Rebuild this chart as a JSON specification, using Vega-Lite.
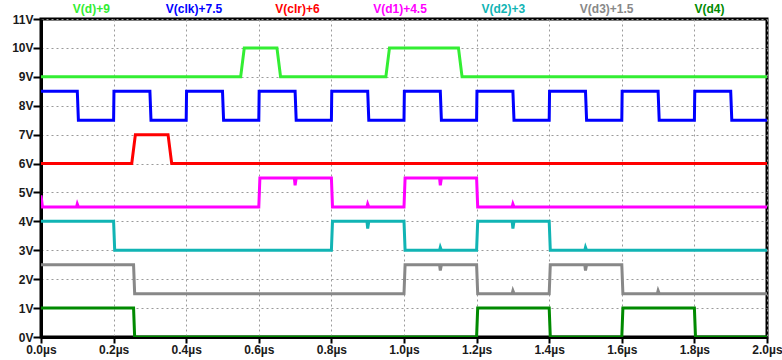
{
  "$schema": "https://vega.github.io/schema/vega-lite/v6.json",
  "width": 726,
  "height": 318,
  "autosize": {"type": "none"},
  "padding": {"left": 41, "top": 19, "right": 15, "bottom": 23},
  "background": "#ffffff",
  "config": {
    "view": {"stroke": "#000000", "strokeWidth": 3},
    "font": "Liberation Sans",
    "axis": {
      "domainColor": "#000000",
      "domainWidth": 3,
      "tickColor": "#000000",
      "tickWidth": 2,
      "labelFont": "Liberation Sans",
      "labelFontSize": 12,
      "labelFontWeight": "bold",
      "labelColor": "#1a1a1a",
      "gridColor": "#9a9a9a",
      "gridDash": [2, 3],
      "gridWidth": 1,
      "title": null
    }
  },
  "datasets": {
    "traces": [
      {"signal": "V(d)+9", "t": 0, "v": 9}, {"signal": "V(d)+9", "t": 0.55, "v": 9}, {"signal": "V(d)+9", "t": 0.56, "v": 10}, {"signal": "V(d)+9", "t": 0.65, "v": 10}, {"signal": "V(d)+9", "t": 0.66, "v": 9}, {"signal": "V(d)+9", "t": 0.95, "v": 9}, {"signal": "V(d)+9", "t": 0.96, "v": 10}, {"signal": "V(d)+9", "t": 1.15, "v": 10}, {"signal": "V(d)+9", "t": 1.16, "v": 9}, {"signal": "V(d)+9", "t": 2.0, "v": 9},

      {"signal": "V(clk)+7.5", "t": 0, "v": 8.5}, {"signal": "V(clk)+7.5", "t": 0.1, "v": 8.5}, {"signal": "V(clk)+7.5", "t": 0.103, "v": 7.5}, {"signal": "V(clk)+7.5", "t": 0.2, "v": 7.5}, {"signal": "V(clk)+7.5", "t": 0.201, "v": 8.5},
      {"signal": "V(clk)+7.5", "t": 0.3, "v": 8.5}, {"signal": "V(clk)+7.5", "t": 0.303, "v": 7.5}, {"signal": "V(clk)+7.5", "t": 0.4, "v": 7.5}, {"signal": "V(clk)+7.5", "t": 0.401, "v": 8.5},
      {"signal": "V(clk)+7.5", "t": 0.5, "v": 8.5}, {"signal": "V(clk)+7.5", "t": 0.503, "v": 7.5}, {"signal": "V(clk)+7.5", "t": 0.6, "v": 7.5}, {"signal": "V(clk)+7.5", "t": 0.601, "v": 8.5},
      {"signal": "V(clk)+7.5", "t": 0.7, "v": 8.5}, {"signal": "V(clk)+7.5", "t": 0.703, "v": 7.5}, {"signal": "V(clk)+7.5", "t": 0.8, "v": 7.5}, {"signal": "V(clk)+7.5", "t": 0.801, "v": 8.5},
      {"signal": "V(clk)+7.5", "t": 0.9, "v": 8.5}, {"signal": "V(clk)+7.5", "t": 0.903, "v": 7.5}, {"signal": "V(clk)+7.5", "t": 1.0, "v": 7.5}, {"signal": "V(clk)+7.5", "t": 1.001, "v": 8.5},
      {"signal": "V(clk)+7.5", "t": 1.1, "v": 8.5}, {"signal": "V(clk)+7.5", "t": 1.103, "v": 7.5}, {"signal": "V(clk)+7.5", "t": 1.2, "v": 7.5}, {"signal": "V(clk)+7.5", "t": 1.201, "v": 8.5},
      {"signal": "V(clk)+7.5", "t": 1.3, "v": 8.5}, {"signal": "V(clk)+7.5", "t": 1.303, "v": 7.5}, {"signal": "V(clk)+7.5", "t": 1.4, "v": 7.5}, {"signal": "V(clk)+7.5", "t": 1.401, "v": 8.5},
      {"signal": "V(clk)+7.5", "t": 1.5, "v": 8.5}, {"signal": "V(clk)+7.5", "t": 1.503, "v": 7.5}, {"signal": "V(clk)+7.5", "t": 1.6, "v": 7.5}, {"signal": "V(clk)+7.5", "t": 1.601, "v": 8.5},
      {"signal": "V(clk)+7.5", "t": 1.7, "v": 8.5}, {"signal": "V(clk)+7.5", "t": 1.703, "v": 7.5}, {"signal": "V(clk)+7.5", "t": 1.8, "v": 7.5}, {"signal": "V(clk)+7.5", "t": 1.801, "v": 8.5},
      {"signal": "V(clk)+7.5", "t": 1.9, "v": 8.5}, {"signal": "V(clk)+7.5", "t": 1.903, "v": 7.5}, {"signal": "V(clk)+7.5", "t": 2.0, "v": 7.5},

      {"signal": "V(clr)+6", "t": 0, "v": 6}, {"signal": "V(clr)+6", "t": 0.25, "v": 6}, {"signal": "V(clr)+6", "t": 0.26, "v": 7}, {"signal": "V(clr)+6", "t": 0.35, "v": 7}, {"signal": "V(clr)+6", "t": 0.36, "v": 6}, {"signal": "V(clr)+6", "t": 2.0, "v": 6},

      {"signal": "V(d1)+4.5", "t": 0, "v": 4.9}, {"signal": "V(d1)+4.5", "t": 0.004, "v": 4.5}, {"signal": "V(d1)+4.5", "t": 0.098, "v": 4.5}, {"signal": "V(d1)+4.5", "t": 0.1, "v": 4.6}, {"signal": "V(d1)+4.5", "t": 0.103, "v": 4.5},
      {"signal": "V(d1)+4.5", "t": 0.6, "v": 4.5}, {"signal": "V(d1)+4.5", "t": 0.603, "v": 5.5}, {"signal": "V(d1)+4.5", "t": 0.698, "v": 5.5}, {"signal": "V(d1)+4.5", "t": 0.7, "v": 5.25}, {"signal": "V(d1)+4.5", "t": 0.703, "v": 5.5},
      {"signal": "V(d1)+4.5", "t": 0.8, "v": 5.5}, {"signal": "V(d1)+4.5", "t": 0.803, "v": 4.5}, {"signal": "V(d1)+4.5", "t": 0.898, "v": 4.5}, {"signal": "V(d1)+4.5", "t": 0.9, "v": 4.6}, {"signal": "V(d1)+4.5", "t": 0.903, "v": 4.5},
      {"signal": "V(d1)+4.5", "t": 1.0, "v": 4.5}, {"signal": "V(d1)+4.5", "t": 1.003, "v": 5.5}, {"signal": "V(d1)+4.5", "t": 1.098, "v": 5.5}, {"signal": "V(d1)+4.5", "t": 1.1, "v": 5.25}, {"signal": "V(d1)+4.5", "t": 1.103, "v": 5.5},
      {"signal": "V(d1)+4.5", "t": 1.2, "v": 5.5}, {"signal": "V(d1)+4.5", "t": 1.203, "v": 4.5}, {"signal": "V(d1)+4.5", "t": 1.298, "v": 4.5}, {"signal": "V(d1)+4.5", "t": 1.3, "v": 4.6}, {"signal": "V(d1)+4.5", "t": 1.303, "v": 4.5},
      {"signal": "V(d1)+4.5", "t": 2.0, "v": 4.5},

      {"signal": "V(d2)+3", "t": 0, "v": 4}, {"signal": "V(d2)+3", "t": 0.2, "v": 4}, {"signal": "V(d2)+3", "t": 0.203, "v": 3}, {"signal": "V(d2)+3", "t": 0.8, "v": 3}, {"signal": "V(d2)+3", "t": 0.803, "v": 4},
      {"signal": "V(d2)+3", "t": 0.898, "v": 4}, {"signal": "V(d2)+3", "t": 0.9, "v": 3.75}, {"signal": "V(d2)+3", "t": 0.903, "v": 4}, {"signal": "V(d2)+3", "t": 1.0, "v": 4}, {"signal": "V(d2)+3", "t": 1.003, "v": 3},
      {"signal": "V(d2)+3", "t": 1.098, "v": 3}, {"signal": "V(d2)+3", "t": 1.1, "v": 3.1}, {"signal": "V(d2)+3", "t": 1.103, "v": 3}, {"signal": "V(d2)+3", "t": 1.2, "v": 3}, {"signal": "V(d2)+3", "t": 1.203, "v": 4},
      {"signal": "V(d2)+3", "t": 1.298, "v": 4}, {"signal": "V(d2)+3", "t": 1.3, "v": 3.75}, {"signal": "V(d2)+3", "t": 1.303, "v": 4}, {"signal": "V(d2)+3", "t": 1.4, "v": 4}, {"signal": "V(d2)+3", "t": 1.403, "v": 3},
      {"signal": "V(d2)+3", "t": 1.498, "v": 3}, {"signal": "V(d2)+3", "t": 1.5, "v": 3.1}, {"signal": "V(d2)+3", "t": 1.503, "v": 3}, {"signal": "V(d2)+3", "t": 2.0, "v": 3},

      {"signal": "V(d3)+1.5", "t": 0, "v": 2.5}, {"signal": "V(d3)+1.5", "t": 0.255, "v": 2.5}, {"signal": "V(d3)+1.5", "t": 0.258, "v": 1.5}, {"signal": "V(d3)+1.5", "t": 1.0, "v": 1.5}, {"signal": "V(d3)+1.5", "t": 1.003, "v": 2.5},
      {"signal": "V(d3)+1.5", "t": 1.098, "v": 2.5}, {"signal": "V(d3)+1.5", "t": 1.1, "v": 2.3}, {"signal": "V(d3)+1.5", "t": 1.103, "v": 2.5}, {"signal": "V(d3)+1.5", "t": 1.2, "v": 2.5}, {"signal": "V(d3)+1.5", "t": 1.203, "v": 1.5},
      {"signal": "V(d3)+1.5", "t": 1.298, "v": 1.5}, {"signal": "V(d3)+1.5", "t": 1.3, "v": 1.6}, {"signal": "V(d3)+1.5", "t": 1.303, "v": 1.5}, {"signal": "V(d3)+1.5", "t": 1.4, "v": 1.5}, {"signal": "V(d3)+1.5", "t": 1.403, "v": 2.5},
      {"signal": "V(d3)+1.5", "t": 1.498, "v": 2.5}, {"signal": "V(d3)+1.5", "t": 1.5, "v": 2.3}, {"signal": "V(d3)+1.5", "t": 1.503, "v": 2.5}, {"signal": "V(d3)+1.5", "t": 1.6, "v": 2.5}, {"signal": "V(d3)+1.5", "t": 1.603, "v": 1.5},
      {"signal": "V(d3)+1.5", "t": 1.698, "v": 1.5}, {"signal": "V(d3)+1.5", "t": 1.7, "v": 1.6}, {"signal": "V(d3)+1.5", "t": 1.703, "v": 1.5}, {"signal": "V(d3)+1.5", "t": 2.0, "v": 1.5},

      {"signal": "V(d4)", "t": 0, "v": 1}, {"signal": "V(d4)", "t": 0.255, "v": 1}, {"signal": "V(d4)", "t": 0.258, "v": 0}, {"signal": "V(d4)", "t": 1.2, "v": 0}, {"signal": "V(d4)", "t": 1.203, "v": 1},
      {"signal": "V(d4)", "t": 1.4, "v": 1}, {"signal": "V(d4)", "t": 1.403, "v": 0}, {"signal": "V(d4)", "t": 1.6, "v": 0}, {"signal": "V(d4)", "t": 1.603, "v": 1}, {"signal": "V(d4)", "t": 1.8, "v": 1},
      {"signal": "V(d4)", "t": 1.803, "v": 0}, {"signal": "V(d4)", "t": 2.0, "v": 0}
    ],
    "names": [
      {"signal": "V(d)+9", "t": 0.1386},
      {"signal": "V(clk)+7.5", "t": 0.4215},
      {"signal": "V(clr)+6", "t": 0.7066},
      {"signal": "V(d1)+4.5", "t": 0.989},
      {"signal": "V(d2)+3", "t": 1.2736},
      {"signal": "V(d3)+1.5", "t": 1.5584},
      {"signal": "V(d4)", "t": 1.8416}
    ]
  },
  "encoding": {
    "x": {
      "field": "t",
      "type": "quantitative",
      "scale": {"domain": [0, 2], "nice": false, "zero": false},
      "axis": {
        "values": [0, 0.2, 0.4, 0.6, 0.8, 1.0, 1.2, 1.4, 1.6, 1.8, 2.0],
        "labelExpr": "format(datum.value, '.1f') + 'µs'",
        "tickSize": 6,
        "labelPadding": 1,
        "labelFlush": false,
        "labelOverlap": false
      }
    },
    "color": {
      "field": "signal",
      "type": "nominal",
      "scale": {
        "domain": ["V(d)+9", "V(clk)+7.5", "V(clr)+6", "V(d1)+4.5", "V(d2)+3", "V(d3)+1.5", "V(d4)"],
        "range": ["#33ee33", "#0000ff", "#ff0000", "#ff00ff", "#11b4b4", "#888888", "#008a00"]
      },
      "legend": null
    }
  },
  "layer": [
    {
      "data": {"name": "traces"},
      "mark": {"type": "line", "strokeWidth": 3, "clip": true, "strokeJoin": "miter"},
      "encoding": {
        "y": {
          "field": "v",
          "type": "quantitative",
          "scale": {"domain": [0, 11], "nice": false},
          "axis": {
            "values": [0, 1, 2, 3, 4, 5, 6, 7, 8, 9, 10, 11],
            "labelExpr": "datum.value + 'V'",
            "tickSize": 8,
            "labelPadding": 0,
            "labelFlush": false,
            "labelOverlap": false
          }
        },
        "detail": {"field": "signal"}
      }
    },
    {
      "data": {"name": "names"},
      "mark": {"type": "text", "fontSize": 12, "fontWeight": "bold", "font": "Liberation Sans", "baseline": "middle", "align": "center", "dy": -10, "clip": false},
      "encoding": {
        "y": {
          "datum": 11,
          "type": "quantitative",
          "scale": {"domain": [0, 11], "nice": false},
          "axis": {
            "values": [0, 1, 2, 3, 4, 5, 6, 7, 8, 9, 10, 11],
            "labelExpr": "datum.value + 'V'",
            "tickSize": 8,
            "labelPadding": 0,
            "labelFlush": false,
            "labelOverlap": false
          }
        },
        "text": {"field": "signal"}
      }
    }
  ]
}
